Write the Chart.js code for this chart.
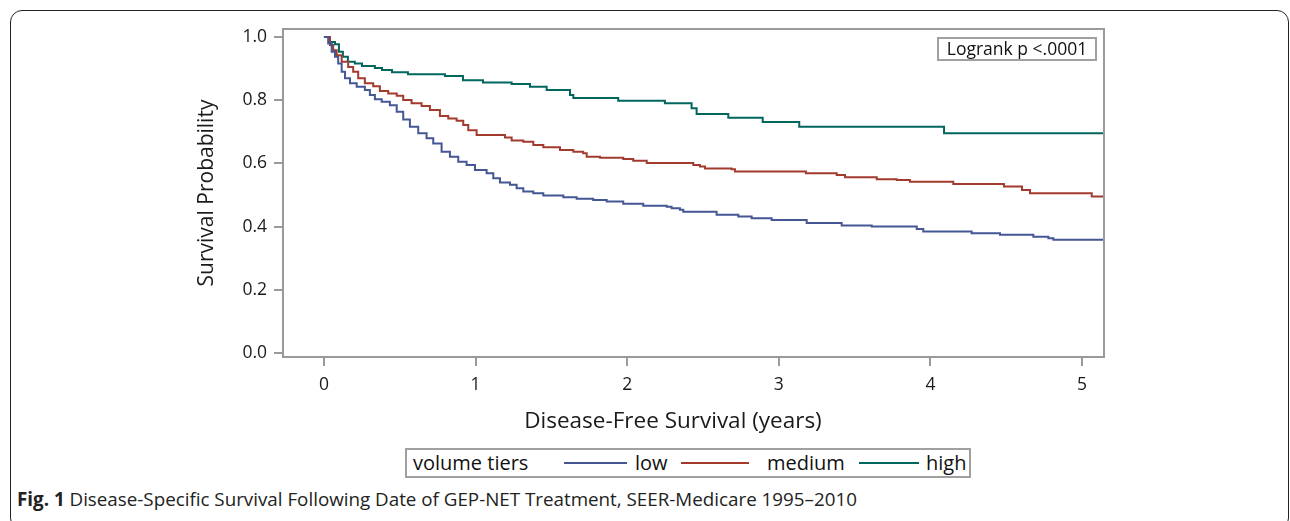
<!DOCTYPE html>
<html>
<head>
<meta charset="utf-8">
<script src="https://cdn.jsdelivr.net/npm/chart.js@4.4.1/dist/chart.umd.min.js"></script>
<style>
  html, body { margin: 0; padding: 0; background: #fff; }
  body { width: 1290px; height: 521px; position: relative; overflow: hidden; font-family: "Open Sans", "Noto Sans", sans-serif; }
  #frame { position: absolute; left: 10px; top: 10px; width: 1279px; height: 520px; border: 1.6px solid #222; border-radius: 12px; box-sizing: border-box; }
  #c { position: absolute; left: 0; top: 0; }
  #xtitle { position: absolute; left: 473px; width: 400px; top: 405px; text-align: center; font-size: 22.5px; line-height: 30px; color: #1a1a1a; white-space: nowrap; }
  #logrank { position: absolute; left: 937px; top: 37px; width: 160px; height: 24px; box-sizing: border-box; border: 2px solid #a0a0a0; font-size: 17.5px; line-height: 19px; text-align: center; color: #111; }
  #legend { position: absolute; left: 405px; top: 448px; width: 566px; height: 30px; box-sizing: border-box; border: 2px solid #a0a0a0; color: #111; font-size: 20px; }
  #legend span { position: absolute; top: 0; line-height: 25px; white-space: nowrap; }
  #legend i { position: absolute; top: 12px; height: 2px; }
  #caption { position: absolute; left: 17px; top: 486px; font-size: 18.8px; color: #222; white-space: nowrap; }
  #caption b { font-weight: 700; }
</style>
</head>
<body>
<div id="frame"></div>
<canvas id="c" width="1290" height="440" style="width:1290px;height:440px"></canvas>
<div id="xtitle">Disease-Free Survival (years)</div>
<div id="logrank">Logrank p &lt;.0001</div>
<div id="legend">
  <span style="left:6px">volume tiers</span>
  <i style="left:157px;width:63px;background:#445694"></i><span style="left:228px">low</span>
  <i style="left:274px;width:68px;background:#A23A2E"></i><span style="left:360px">medium</span>
  <i style="left:452px;width:60px;background:#01665E"></i><span style="left:519px">high</span>
</div>
<div id="caption"><b>Fig. 1</b> Disease-Specific Survival Following Date of GEP-NET Treatment, SEER-Medicare 1995–2010</div>
<script>
// ---- data ----
const seriesNames = ["low", "medium", "high"];
const xTicks = [0, 1, 2, 3, 4, 5];
const yTicks = [0.0, 0.2, 0.4, 0.6, 0.8, 1.0];

const lowTimes = [0, 0.028, 0.051, 0.073, 0.094, 0.117, 0.139, 0.172, 0.216, 0.270, 0.303, 0.336, 0.381, 0.435, 0.480, 0.523, 0.567, 0.622, 0.677, 0.721, 0.776, 0.831, 0.886, 0.941, 0.996, 1.073, 1.117, 1.161, 1.227, 1.271, 1.315, 1.381, 1.447, 1.579, 1.667, 1.776, 1.865, 1.974, 2.106, 2.261, 2.293, 2.348, 2.370, 2.590, 2.733, 2.821, 2.953, 3.184, 3.415, 3.613, 3.910, 3.953, 4.272, 4.459, 4.679, 4.778, 4.811, 5.145];
const lowSurv  = [1.0, 0.979, 0.953, 0.937, 0.916, 0.890, 0.869, 0.853, 0.842, 0.832, 0.816, 0.803, 0.795, 0.784, 0.763, 0.739, 0.716, 0.695, 0.679, 0.663, 0.637, 0.621, 0.605, 0.595, 0.579, 0.569, 0.553, 0.539, 0.532, 0.521, 0.511, 0.505, 0.498, 0.493, 0.488, 0.484, 0.479, 0.472, 0.466, 0.463, 0.458, 0.453, 0.447, 0.437, 0.432, 0.426, 0.421, 0.411, 0.403, 0.400, 0.392, 0.384, 0.379, 0.374, 0.368, 0.363, 0.358, 0.358];

const medTimes = [0, 0.040, 0.061, 0.084, 0.117, 0.160, 0.193, 0.226, 0.270, 0.325, 0.369, 0.424, 0.480, 0.523, 0.578, 0.644, 0.699, 0.765, 0.820, 0.875, 0.919, 0.952, 1.007, 1.194, 1.238, 1.315, 1.381, 1.447, 1.557, 1.645, 1.710, 1.733, 1.821, 1.974, 2.040, 2.129, 2.436, 2.480, 2.513, 2.689, 2.711, 3.179, 3.382, 3.437, 3.646, 3.778, 3.865, 4.151, 4.485, 4.604, 4.657, 5.064, 5.145];
const medSurv  = [1.0, 0.974, 0.958, 0.942, 0.921, 0.905, 0.890, 0.869, 0.853, 0.844, 0.829, 0.821, 0.814, 0.800, 0.790, 0.781, 0.769, 0.750, 0.742, 0.735, 0.721, 0.705, 0.690, 0.682, 0.672, 0.668, 0.658, 0.651, 0.642, 0.637, 0.632, 0.621, 0.618, 0.614, 0.608, 0.601, 0.595, 0.590, 0.584, 0.581, 0.574, 0.569, 0.563, 0.556, 0.550, 0.547, 0.542, 0.535, 0.527, 0.516, 0.505, 0.495, 0.495];

const highTimes = [0, 0.040, 0.073, 0.099, 0.125, 0.158, 0.204, 0.251, 0.336, 0.383, 0.449, 0.554, 0.798, 0.917, 1.049, 1.238, 1.359, 1.469, 1.623, 1.645, 1.941, 2.249, 2.425, 2.458, 2.667, 2.894, 3.135, 4.090, 5.145];
const highSurv  = [1.0, 0.984, 0.977, 0.953, 0.937, 0.921, 0.916, 0.908, 0.902, 0.895, 0.888, 0.882, 0.876, 0.863, 0.856, 0.851, 0.842, 0.832, 0.816, 0.807, 0.798, 0.790, 0.774, 0.756, 0.744, 0.731, 0.716, 0.695, 0.695];

const seriesColors = ["#445694", "#A23A2E", "#01665E"];

function pts(t, s) { return t.map((v, i) => ({ x: v, y: s[i] })); }

const AXIS = "#9a9a9a";
const TXT = "#1a1a1a";
const FONT = '"Open Sans", "Noto Sans", sans-serif';

const frameBox = {
  id: "frameBox",
  afterDatasetsDraw(chart) {
    const a = chart.chartArea, ctx = chart.ctx;
    ctx.save();
    ctx.strokeStyle = AXIS;
    ctx.lineWidth = 2;
    ctx.strokeRect(a.left, a.top, a.right - a.left, a.bottom - a.top);
    ctx.restore();
  }
};

new Chart(document.getElementById("c"), {
  type: "line",
  data: {
    datasets: [
      { label: seriesNames[0], data: pts(lowTimes, lowSurv), borderColor: seriesColors[0] },
      { label: seriesNames[1], data: pts(medTimes, medSurv), borderColor: seriesColors[1] },
      { label: seriesNames[2], data: pts(highTimes, highSurv), borderColor: seriesColors[2] }
    ].map(d => Object.assign(d, { stepped: "before", borderWidth: 2, pointRadius: 0, fill: false, tension: 0 }))
  },
  options: {
    responsive: false,
    animation: false,
    events: [],
    layout: { padding: { left: 0, top: 29, right: 186, bottom: 0 } },
    plugins: { legend: { display: false }, tooltip: { enabled: false } },
    scales: {
      x: {
        type: "linear",
        min: -0.27, max: 5.145,
        afterFit(s) { s.height = 83; },
        afterBuildTicks(s) { s.ticks = xTicks.map(v => ({ value: v })); },
        grid: { drawOnChartArea: false, drawTicks: true, tickLength: 9, color: AXIS, lineWidth: 2 },
        border: { display: true, color: AXIS, width: 2 },
        ticks: { color: TXT, font: { family: FONT, size: 17.5 }, padding: 9, callback: v => String(v) },
        title: { display: false }
      },
      y: {
        type: "linear",
        min: -0.0127, max: 1.025,
        afterFit(s) { s.width = 283; },
        afterBuildTicks(s) { s.ticks = yTicks.map(v => ({ value: v })); },
        grid: { drawOnChartArea: false, drawTicks: true, tickLength: 9, color: AXIS, lineWidth: 2 },
        border: { display: true, color: AXIS, width: 2 },
        ticks: { color: TXT, font: { family: FONT, size: 17.5 }, padding: 7, callback: v => Number(v).toFixed(1) },
        title: { display: true, text: "Survival Probability", color: TXT, font: { family: FONT, size: 21 }, padding: { top: 194, bottom: 0 } }
      }
    }
  },
  plugins: [frameBox]
});
</script>
</body>
</html>
